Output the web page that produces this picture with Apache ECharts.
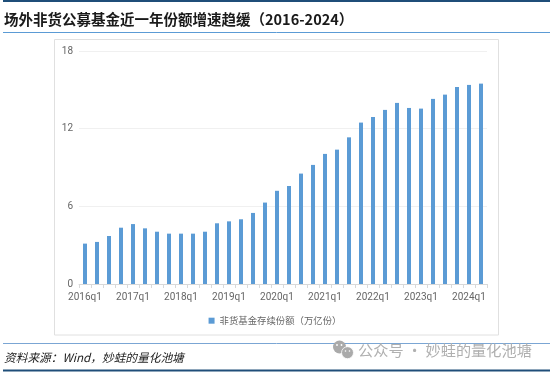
<!DOCTYPE html>
<html><head><meta charset="utf-8">
<style>html,body{margin:0;padding:0;background:#fff}#c{width:550px;height:372px}</style>
<script src="https://cdn.jsdelivr.net/npm/echarts@6/dist/echarts.min.js"></script>
</head><body><div id="c"></div>
<script>
const quarters = ['2016q1','2016q2','2016q3','2016q4','2017q1','2017q2','2017q3','2017q4','2018q1','2018q2','2018q3','2018q4','2019q1','2019q2','2019q3','2019q4','2020q1','2020q2','2020q3','2020q4','2021q1','2021q2','2021q3','2021q4','2022q1','2022q2','2022q3','2022q4','2023q1','2023q2','2023q3','2023q4','2024q1','2024q2'];
const shares = [3.12,3.25,3.71,4.35,4.63,4.3,4.04,3.89,3.89,3.89,4.04,4.69,4.84,5.0,5.49,6.29,7.2,7.57,8.53,9.2,10.05,10.38,11.33,12.47,12.9,13.45,13.99,13.6,13.55,14.3,14.63,15.22,15.38,15.48];
const seriesName = '非货基金存续份额\uFF08万亿份\uFF09';
const titleText = '场外非货公募基金近一年份额增速趋缓\uFF082016-2024\uFF09';
const sourceText = '资料来源\uFF1AWind\uFF0C妙蛙的量化池塘';
const watermarkText = '公众号 · 妙蛙的量化池塘';
const FF = '"Noto Sans CJK SC","Noto Sans",sans-serif';
const chart = echarts.init(document.getElementById('c'), null, {renderer:'canvas'});
const hline = (y,color,w)=>({type:'line',z:1,shape:{x1:3,y1:y,x2:550,y2:y},style:{stroke:color,lineWidth:w}});
chart.setOption({
  animation:false,
  backgroundColor:'#fff',
  grid:{left:79,top:51,width:408,height:233},
  legend:{show:true,top:311,left:'center',itemWidth:6,itemHeight:6,icon:'rect',
    textStyle:{fontFamily:FF,fontSize:9.4,color:'#666'},data:[seriesName]},
  xAxis:{type:'category',data:quarters,
    axisLine:{lineStyle:{color:'#d9d9d9'}},
    axisTick:{show:true,alignWithLabel:false,interval:0,lineStyle:{color:'#d9d9d9'},length:4},
    axisLabel:{interval:(i)=>i%4===0,fontFamily:'Roboto,sans-serif',fontSize:10,color:'#666',margin:8}},
  yAxis:{type:'value',min:0,max:18,interval:6,
    axisLine:{show:false},axisTick:{show:false},
    splitLine:{lineStyle:{color:'#f0f0f0'}},
    axisLabel:{fontFamily:'Roboto,sans-serif',fontSize:10,color:'#666',margin:6}},
  series:[{name:seriesName,type:'bar',data:shares,barWidth:4,itemStyle:{color:'#5b9bd5'}}],
  graphic:[
    hline(1,'#1f4e79',2),
    hline(32.5,'#5b9bd5',1),
    hline(343.5,'#7ba6d4',1),
    hline(370.5,'#1f4e79',2),
    {type:'rect',z:0,shape:{x:54.5,y:39.5,width:444,height:295.5},style:{fill:'#fff',stroke:'#e0e0e0',lineWidth:1}},
    {type:'text',x:4,y:19,style:{text:titleText,fontFamily:FF,fontWeight:'bold',fontSize:14.5,fill:'#1a1a1a',verticalAlign:'middle'}},
    {type:'text',x:4,y:358,style:{text:sourceText,fontFamily:FF,fontStyle:'italic',fontSize:11.7,fill:'#222',verticalAlign:'middle'}},
    {type:'text',x:358,y:350,z:5,style:{text:watermarkText,fontFamily:FF,fontSize:15.2,fill:'#b0b0b0',verticalAlign:'middle'}},
    {type:'circle',z:5,shape:{cx:339.5,cy:347,r:6.5},style:{fill:'#aaa'}},
    {type:'circle',z:6,shape:{cx:347.5,cy:352.7,r:6},style:{fill:'#aaa',stroke:'#fff',lineWidth:0.8}},
    {type:'circle',z:7,shape:{cx:337,cy:345,r:0.9},style:{fill:'#fff'}},
    {type:'circle',z:7,shape:{cx:341.5,cy:345,r:0.9},style:{fill:'#fff'}},
    {type:'circle',z:7,shape:{cx:345.5,cy:351,r:0.8},style:{fill:'#fff'}},
    {type:'circle',z:7,shape:{cx:349.5,cy:351,r:0.8},style:{fill:'#fff'}}
  ]
});
</script></body></html>
